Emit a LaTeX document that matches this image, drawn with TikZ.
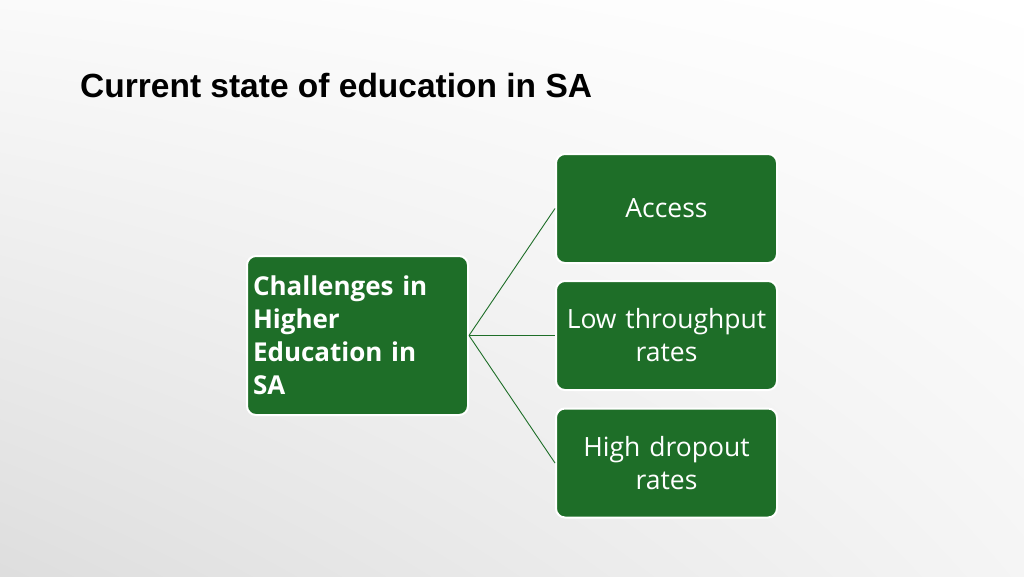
\documentclass[tikz,border=0pt]{standalone}
\usepackage{fontspec}
\usetikzlibrary{shadings}
\setmainfont{Open Sans}
\newfontfamily\titlefont{Liberation Sans Bold}
\definecolor{boxgreen}{RGB}{30,110,40}
\begin{document}
\begin{tikzpicture}[x=1pt,y=-1pt,
  box/.style={draw=white, line width=2pt, fill=boxgreen, rounded corners=9pt,
    minimum width=219pt, minimum height=109pt, text=white, inner xsep=6pt, inner ysep=0pt,
    font=\fontsize{26.5}{33}\selectfont},
  link/.style={draw=boxgreen, line width=0.9pt}]
\shade[upper left=black!2, upper right=white, lower left=black!13, lower right=black!4] (0,0) rectangle (1024,576);
\useasboundingbox (0,0) rectangle (1024,576);
\node[anchor=base west, inner sep=0pt, font=\titlefont\fontsize{33.5}{40}\selectfont] (title) at (80,97) {Current state of education in SA};
\node[box, minimum height=159pt, text width=209pt, align=left, font=\bfseries\fontsize{26}{33}\selectfont] (main) at (357.5,335.5) {Challenges in\\ Higher\\ Education in\\ SA};
\node[box, text width=209pt, align=center] (access) at (666.5,208.5) {Access};
\node[box, text width=209pt, align=center] (low) at (666.5,335.5) {Low throughput\\ rates};
\node[box, text width=209pt, align=center] (high) at (666.5,463) {High dropout\\ rates};
\draw[link] (main.east) -- (access.west);
\draw[link] (main.east) -- (low.west);
\draw[link] (main.east) -- (high.west);
\end{tikzpicture}
\end{document}
